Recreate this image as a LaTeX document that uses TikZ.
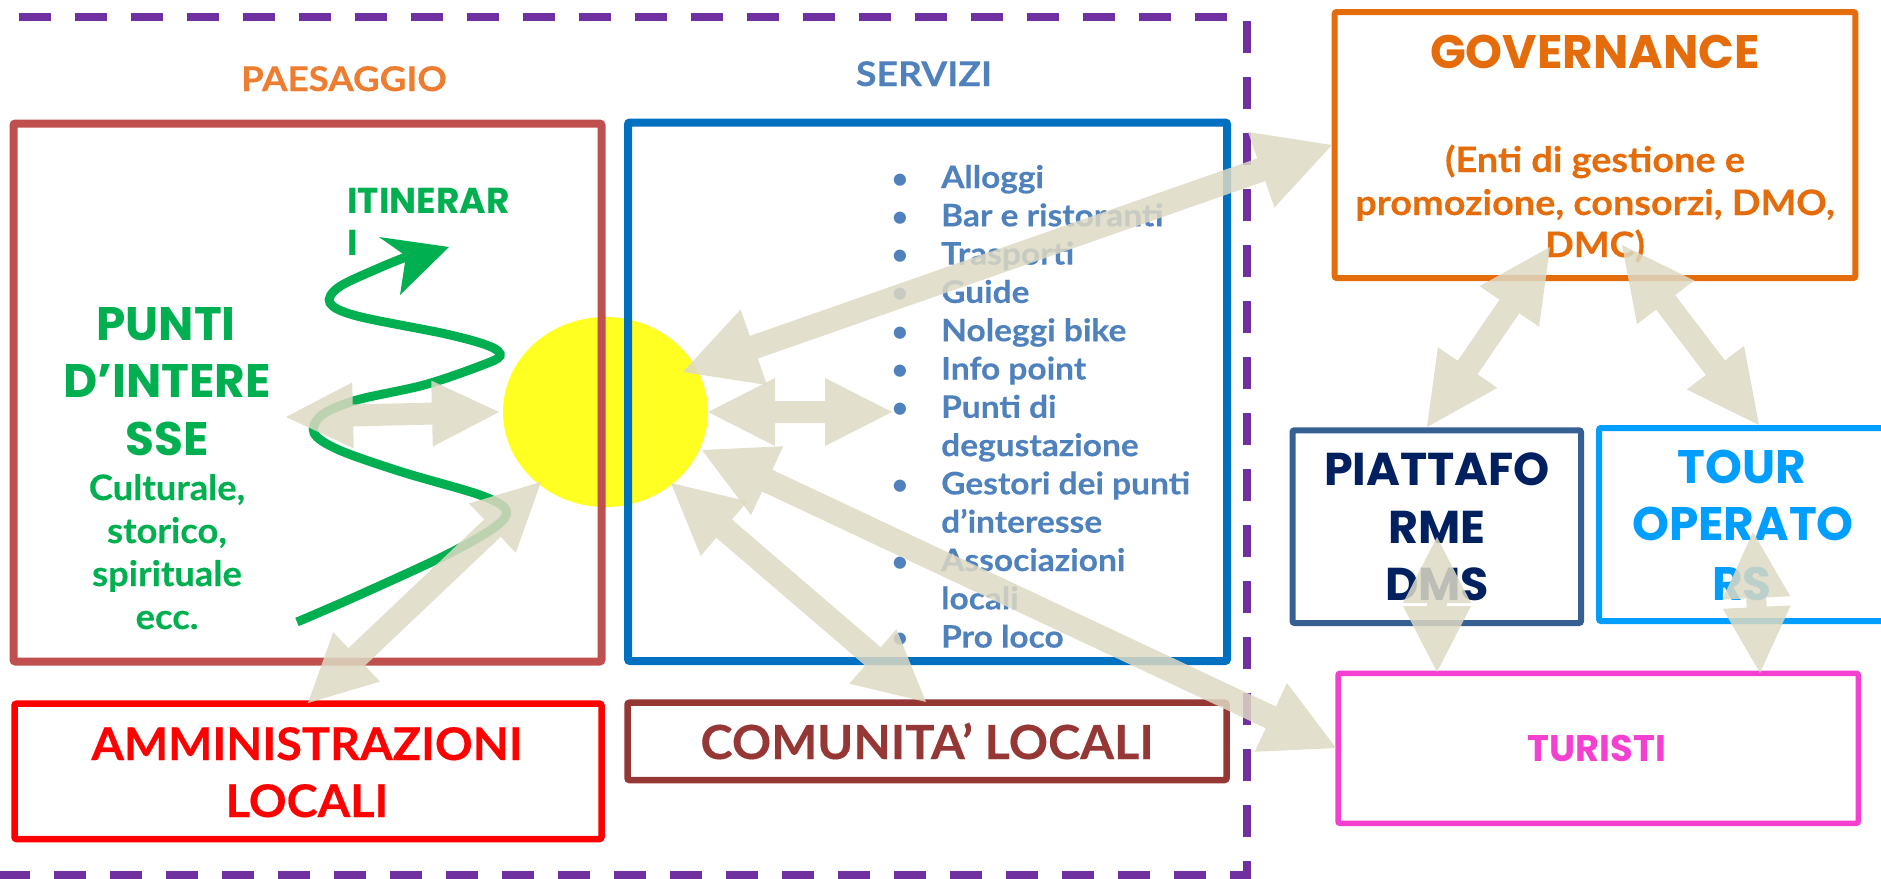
\documentclass[tikz,border=0pt]{standalone}
\usepackage{fontspec}
\setmainfont{Lato}
\newfontfamily\mont{Poppins}
\usetikzlibrary{calc,shapes.geometric}
\definecolor{purplec}{HTML}{7030A0}
\definecolor{paesc}{HTML}{C0504D}
\definecolor{servc}{HTML}{0070C0}
\definecolor{ammc}{HTML}{FF0000}
\definecolor{comc}{HTML}{953735}
\definecolor{govc}{HTML}{E46C0A}
\definecolor{piattb}{HTML}{376092}
\definecolor{piattt}{HTML}{002060}
\definecolor{tourc}{HTML}{009FFF}
\definecolor{turc}{HTML}{F440D0}
\definecolor{paestitle}{HTML}{ED7D31}
\definecolor{servtext}{HTML}{4F81BD}
\definecolor{greenc}{HTML}{00B050}
\definecolor{sunc}{HTML}{FFFF22}
\definecolor{arrc}{HTML}{DDD9C3}
\newcommand\fsz[1]{\fontsize{#1}{#1}\selectfont}
\newcommand\ral[1]{\addfontfeatures{FakeStretch=#1,FakeBold=0.3}}
% double block arrow: #1 tip A, #2 tip B, #3 shaft half width, #4 head half width, #5 head length
\newcommand\dblarr[5]{%
  \fill[arr] (#1)
   -- ($(#1)!#5!(#2)!#4!90:(#2)$) -- ($(#1)!#5!(#2)!#3!90:(#2)$)
   -- ($(#2)!#5!(#1)!#3!-90:(#1)$) -- ($(#2)!#5!(#1)!#4!-90:(#1)$)
   -- (#2)
   -- ($(#2)!#5!(#1)!#4!90:(#1)$) -- ($(#2)!#5!(#1)!#3!90:(#1)$)
   -- ($(#1)!#5!(#2)!#3!-90:(#2)$) -- ($(#1)!#5!(#2)!#4!-90:(#2)$)
   -- cycle;}
\begin{document}
\begin{tikzpicture}[x=1pt,y=-1pt,
  box/.style={draw, rounded corners=2pt, inner sep=0pt},
  txt/.style={inner sep=0pt, anchor=base},
  arr/.style={fill=arrc, fill opacity=0.85}]
\useasboundingbox (0,0) rectangle (1881,878);
\clip (0,0) rectangle (1881,878);
% outer dashed frame
\draw[purplec, line width=8pt, dash pattern=on 32pt off 24pt, dash phase=-20pt] (-4.5,17) rectangle (1247,875);
% sun
\node[ellipse, fill=sunc, draw=none, inner sep=0pt, minimum width=205pt, minimum height=190pt] (sun) at (605.5,412) {};
% boxes
\node[box, draw=paesc, line width=8pt, minimum width=588pt, minimum height=538pt] (paes) at (307.5,392.5) {};
\node[box, draw=servc, line width=8pt, minimum width=599pt, minimum height=538.5pt] (serv) at (927.5,391.75) {};
\node[box, draw=ammc, line width=6.5pt, minimum width=587pt, minimum height=135.3pt] (amm) at (308,771.35) {};
\node[box, draw=comc, line width=6.5pt, minimum width=599pt, minimum height=77.3pt] (com) at (927,741.35) {};
\node[box, draw=govc, line width=6pt, minimum width=520.7pt, minimum height=266pt] (gov) at (1595,145) {};
\node[box, draw=piattb, line width=6pt, minimum width=288.5pt, minimum height=192.7pt] (piatt) at (1436.75,526.65) {};
\node[box, draw=tourc, line width=6pt, minimum width=286pt, minimum height=193pt] (tour) at (1742,524.5) {};
\node[box, draw=turc, line width=5.5pt, minimum width=520.3pt, minimum height=150pt] (tur) at (1598.15,748.3) {};
% titles
\node[txt, text=paestitle, font=\bfseries\fsz{34}\ral{1.08}] (tpaes) at (344,91) {PAESAGGIO};
\node[txt, text=servtext, font=\bfseries\fsz{34}\ral{1.1}] (tserv) at (924,86) {SERVIZI};
% green itinerary path
\draw[greenc, line width=9pt] plot[smooth, tension=0.55] coordinates {
 (297,622) (357,596) (446,555) (495,527) (506,510) (480,495) (402,472) (339,450)
 (314,433) (322,415) (357,400) (424,385) (480,366) (500,356) (489,346) (446,334)
 (357,316) (330,303) (339,287) (379,268) (406,257)};
\fill[greenc] (449,247) -- (379,237) -- (406,256) -- (400,295) -- cycle;
\node[txt, anchor=base west, text=greenc, font=\mont\bfseries\fsz{36}] (titin1) at (347,213) {ITINERAR};
\node[txt, anchor=base west, text=greenc, font=\mont\bfseries\fsz{36}] (titin2) at (347,255) {I};
% punti d'interesse
\node[txt, text=greenc, font=\mont\bfseries\fsz{47}] (tp1) at (166,340) {PUNTI};
\node[txt, text=greenc, font=\mont\bfseries\fsz{47}] (tp2) at (167,397) {D’INTERE};
\node[txt, text=greenc, font=\mont\bfseries\fsz{47}] (tp3) at (167,455) {SSE};
\node[txt, text=greenc, font=\bfseries\fsz{35}\ral{1.04}] (tc1) at (167,500) {Culturale,};
\node[txt, text=greenc, font=\bfseries\fsz{35}\ral{1.04}] (tc2) at (167,543) {storico,};
\node[txt, text=greenc, font=\bfseries\fsz{35}\ral{1.04}] (tc3) at (167,586) {spirituale};
\node[txt, text=greenc, font=\bfseries\fsz{35}\ral{1.04}] (tc4) at (167,629) {ecc.};
% services list
\foreach \t [count=\i from 0] in {Alloggi,Bar e ristoranti,Trasporti,Guide,Noleggi bike,Info point,Punti di,degustazione,Gestori dei punti,d’interesse,Associazioni,locali,Pro loco}
  \node[txt, anchor=base west, text=servtext, font=\bfseries\fsz{31}\ral{1.08}] (ls\i) at (941,188+38.3*\i) {\t};
\foreach \i in {0,1,2,3,4,5,6,8,10,12}
  \node[txt, text=servtext, font=\bfseries\fsz{28}] (lb\i) at (900,188+38.3*\i) {•};
% other labels
\node[txt, text=ammc, font=\bfseries\fsz{45}\ral{1.04}] (ta1) at (307,760) {AMMINISTRAZIONI};
\node[txt, text=ammc, font=\bfseries\fsz{45}\ral{1.04}] (ta2) at (307,817) {LOCALI};
\node[txt, text=comc, font=\bfseries\fsz{47}\ral{1.035}] (tcom) at (927,759) {COMUNITA’ LOCALI};
\node[txt, text=govc, font=\mont\bfseries\fsz{47}] (tg1) at (1595,68) {GOVERNANCE};
\node[txt, text=govc, font=\bfseries\fsz{35}\ral{1.08}] (tg2) at (1595,172) {(Enti di gestione e};
\node[txt, text=govc, font=\bfseries\fsz{35}\ral{1.08}] (tg3) at (1595,215) {promozione, consorzi, DMO,};
\node[txt, text=govc, font=\bfseries\fsz{35}\ral{1.08}] (tg4) at (1595,257) {DMC)};
\node[txt, text=piattt, font=\mont\bfseries\fsz{46}] (tpi1) at (1437,485) {PIATTAFO};
\node[txt, text=piattt, font=\mont\bfseries\fsz{46}] (tpi2) at (1437,543) {RME};
\node[txt, text=piattt, font=\mont\bfseries\fsz{46}] (tpi3) at (1437,600) {DMS};
\node[txt, text=tourc, font=\mont\bfseries\fsz{47}] (tto1) at (1742,483) {TOUR};
\node[txt, text=tourc, font=\mont\bfseries\fsz{47}] (tto2) at (1743,540) {OPERATO};
\node[txt, text=tourc, font=\mont\bfseries\fsz{47}] (tto3) at (1742,600) {RS};
\node[txt, text=turc, font=\mont\bfseries\fsz{37}] (ttur) at (1597,761) {TURISTI};
% arrow end points
\coordinate (pin) at (286,417);   \coordinate (sunW) at (499,412);
\coordinate (sunE) at (708,412);  \coordinate (list) at (892,412);
\coordinate (sunSW) at (541,482); \coordinate (ammN) at (308,703);
\coordinate (sunNE) at (683,372); \coordinate (govW) at (1332,145);
\coordinate (sunS) at (671,483);  \coordinate (comN) at (926,702);
\coordinate (sunSE) at (702,450); \coordinate (turW) at (1336,748);
\coordinate (govS1) at (1550,247); \coordinate (piattN) at (1427,427);
\coordinate (govS2) at (1622,245); \coordinate (tourN) at (1759,425);
\coordinate (piattS) at (1437,537); \coordinate (turN1) at (1437,672);
\coordinate (tourS) at (1753,532); \coordinate (turN2) at (1760,673);
% arrows
\dblarr{pin}{sunW}{11pt}{33pt}{67pt}
\dblarr{sunE}{list}{11pt}{34pt}{67pt}
\dblarr{sunSW}{ammN}{12pt}{34pt}{67pt}
\dblarr{sunNE}{govW}{12pt}{40pt}{75pt}
\dblarr{sunS}{comN}{12pt}{36pt}{70pt}
\dblarr{sunSE}{turW}{12pt}{38pt}{72pt}
\dblarr{govS1}{piattN}{12pt}{36pt}{72pt}
\dblarr{govS2}{tourN}{12pt}{36pt}{72pt}
\dblarr{piattS}{turN1}{10pt}{34pt}{66pt}
\dblarr{tourS}{turN2}{10pt}{34pt}{66pt}
\end{tikzpicture}
\end{document}
